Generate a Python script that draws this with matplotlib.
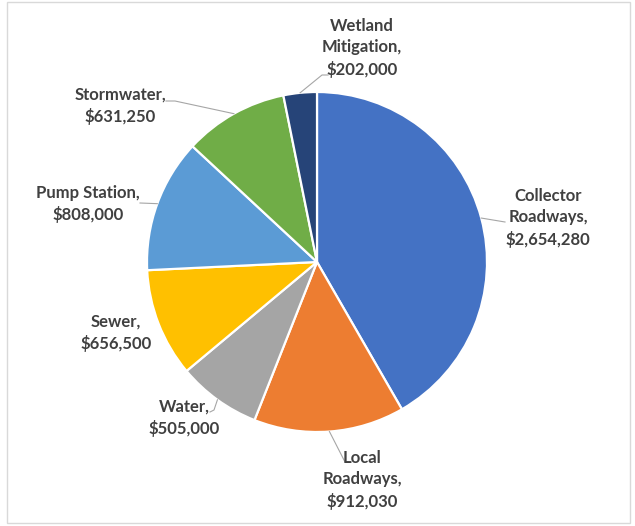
import numpy as np
import matplotlib.pyplot as plt
from matplotlib.patches import Rectangle

# slice data (clockwise from 12 o'clock)
names = ["Collector\nRoadways", "Local\nRoadways", "Water", "Sewer",
         "Pump Station", "Stormwater", "Wetland\nMitigation"]
values = [2654280, 912030, 505000, 656500, 808000, 631250, 202000]
colors = ["#4472C4", "#ED7D31", "#A5A5A5", "#FFC000",
          "#5B9BD5", "#70AD47", "#264478"]

W, H = 635, 526
# label block centres and leader elbow points, in image pixels
label_pos = [(548, 218), (362, 480), (184, 418), (116, 333),
             (88, 204), (120, 106), (362, 48)]
leader_pts = [[(505, 222)], [(345, 462), (349, 462)], [(214, 410), (210, 412)], None,
              [(140, 203)], [(175, 101), (166, 101)], [(322, 75), (328, 75)]]

plt.rcParams['font.family'] = ['Lato', 'DejaVu Sans']

fig = plt.figure(figsize=(W / 100, H / 100), dpi=100)
ax = fig.add_axes([0, 0, 1, 1])

cx, cy, r = 317, H - 262, 170
wedges, _ = ax.pie(values, colors=colors, startangle=90, counterclock=False,
                   center=(cx, cy), radius=r,
                   wedgeprops=dict(edgecolor='white', linewidth=1.6))

for w, name, v, (lx, ly), pts in zip(wedges, names, values, label_pos, leader_pts):
    ax.text(lx, H - ly, f"{name},\n${v:,}", ha='center', va='center',
            fontsize=12, fontweight='bold', color='#404040', linespacing=1.4)
    if pts is None:
        continue
    mid = np.deg2rad((w.theta1 + w.theta2) / 2)
    xs = [cx + r * np.cos(mid)] + [p[0] for p in pts]
    ys = [cy + r * np.sin(mid)] + [H - p[1] for p in pts]
    ax.plot(xs, ys, color='#A6A6A6', lw=0.8)

ax.add_patch(Rectangle((7, H - 523), 623, 521, fill=False, ec='#D9D9D9', lw=1))
ax.set_xlim(0, W)
ax.set_ylim(0, H)
ax.set_aspect('equal')
ax.axis('off')

fig.savefig("out.png", dpi=100)
